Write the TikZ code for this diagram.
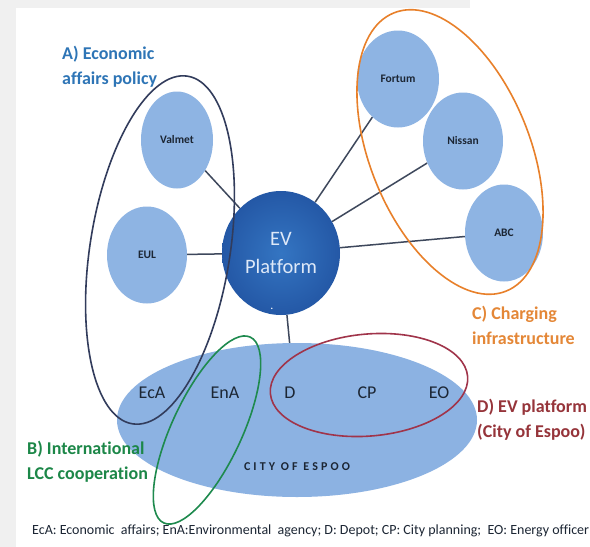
\documentclass[tikz,border=0pt]{standalone}
\usepackage{fontspec}
\setmainfont{Carlito}[Ligatures=NoCommon]
\newfontfamily\spacedfont[LetterSpace=26]{Carlito}
\usetikzlibrary{shapes.geometric, positioning, backgrounds}
\definecolor{bubbleblue}{RGB}{142, 180, 227}
\definecolor{cityblue}{RGB}{140, 178, 226}
\definecolor{platformblue}{RGB}{52, 117, 194}
\definecolor{platformdark}{RGB}{36, 88, 166}
\definecolor{linkgray}{RGB}{62, 72, 92}
\definecolor{policynavy}{RGB}{50, 60, 92}
\definecolor{lccgreen}{RGB}{30, 138, 78}
\definecolor{chargeorange}{RGB}{232, 128, 42}
\definecolor{espoored}{RGB}{160, 52, 74}
\definecolor{titleblue}{RGB}{46, 117, 182}
\definecolor{titlegreen}{RGB}{28, 135, 72}
\definecolor{titleorange}{RGB}{228, 135, 55}
\definecolor{titlered}{RGB}{150, 52, 58}
\definecolor{margingray}{RGB}{240, 240, 240}
\definecolor{unitdark}{RGB}{28, 38, 52}
\definecolor{platformtext}{RGB}{222, 233, 248}

\begin{document}
\begin{tikzpicture}[
    x=1pt, y=-1pt,
    bubble/.style={ellipse, fill=bubbleblue, inner sep=0pt, minimum width=78pt, minimum height=97pt, font=\fontsize{11.5}{13}\selectfont\bfseries, text=unitdark},
    cluster/.style={ellipse, draw=#1, line width=1.6pt, inner sep=0pt},
    grouplabel/.style={anchor=north west, inner sep=0pt, align=left, font=\fontsize{18}{25}\selectfont\bfseries, text=#1},
    unit/.style={inner sep=0pt, font=\fontsize{18}{22}\selectfont, text=unitdark},
    link/.style={draw=linkgray, line width=1.5pt}
]
\useasboundingbox (0, 0) rectangle (590, 547);
\node[ellipse, fill=cityblue, inner sep=0pt, minimum width=360pt, minimum height=154pt] (espoo) at (297, 420) {};
\node[bubble, minimum width=72pt] (valmet) at (177, 140) {Valmet};
\node[bubble, minimum width=80pt] (eul) at (147, 255) {EUL};
\node[bubble, minimum width=82pt] (fortum) at (398, 79) {Fortum};
\node[bubble, minimum width=80pt] (nissan) at (463, 141) {Nissan};
\node[bubble] (abc) at (504, 233) {ABC};
\node[ellipse, inner sep=0pt, minimum width=118pt, minimum height=124pt, inner color=platformblue, outer color=platformdark, align=center, text=platformtext, font=\fontsize{20.5}{28}\selectfont] (platform) at (281, 253) {EV\\Platform};
\node[inner sep=0pt, text=white, font=\fontsize{12}{12}\selectfont] (dot) at (272, 309) {.};
\node[unit] (eca) at (152, 393) {EcA};
\node[unit] (ena) at (225, 393) {EnA};
\node[unit] (depot) at (290, 393) {D};
\node[unit] (cp) at (367, 393) {CP};
\node[unit] (eo) at (439, 393) {EO};
\node[inner sep=0pt, text=unitdark, font=\spacedfont\fontsize{12}{13}\selectfont\bfseries] (citytext) at (297, 467) {CITY OF ESPOO};
\begin{scope}[on background layer]
    \fill[margingray] (0, 0) rectangle (590, 547);
    \fill[white] (16, 8) rectangle (590, 547);
    \fill[white] (470, 0) rectangle (590, 8);
    \draw[link] (platform) -- (valmet); \draw[link] (platform) -- (eul);
    \draw[link] (platform) -- (fortum); \draw[link] (platform) -- (nissan);
    \draw[link] (platform) -- (abc); \draw[link] (platform) -- (espoo);
\end{scope}
\node[cluster=policynavy, minimum width=140pt, minimum height=352pt, rotate=-9] (groupA) at (160, 250) {};
\node[cluster=lccgreen, minimum width=70pt, minimum height=205pt, rotate=-25] (groupB) at (207, 430) {};
\node[cluster=chargeorange, minimum width=160pt, minimum height=300pt, rotate=22] (groupC) at (450, 152) {};
\node[cluster=espoored, minimum width=198pt, minimum height=102pt, rotate=5] (groupD) at (369, 385) {};
\node[grouplabel=titleblue] (labelA) at (62, 46) {A) Economic\\affairs policy};
\node[grouplabel=titlegreen] (labelB) at (27, 441) {B) International\\LCC cooperation};
\node[grouplabel=titleorange] (labelC) at (472, 306) {C) Charging\\infrastructure};
\node[grouplabel=titlered] (labelD) at (477, 399) {D) EV platform\\(City of Espoo)};
\node[anchor=west, inner sep=0pt, text=unitdark, font=\fontsize{14}{15}\selectfont] (legend) at (32, 531) {EcA: Economic\ \ affairs; EnA:Environmental\ \ agency; D: Depot; CP: City planning;\ \ EO: Energy officer};
\end{tikzpicture}
\end{document}
